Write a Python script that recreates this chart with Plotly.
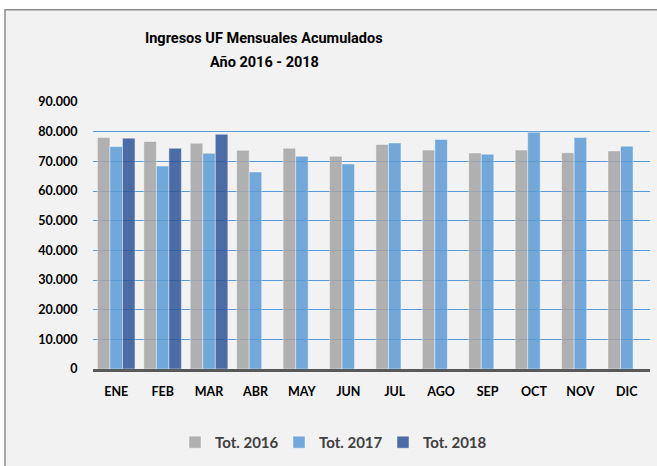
import plotly.graph_objects as go

months = ["ENE", "FEB", "MAR", "ABR", "MAY", "JUN", "JUL", "AGO", "SEP", "OCT", "NOV", "DIC"]
tot_2016 = [78000, 76700, 76100, 73700, 74400, 71700, 75700, 73800, 72800, 73800, 72900, 73500]
tot_2017 = [75000, 68400, 72700, 66400, 71700, 69100, 76200, 77400, 72400, 79800, 78000, 75100]
tot_2018 = [77800, 74400, 79100, None, None, None, None, None, None, None, None, None]
series_names = ["Tot. 2016", "Tot. 2017", "Tot. 2018"]
y_ticks = [0, 10000, 20000, 30000, 40000, 50000, 60000, 70000, 80000, 90000]

colors = ["#a5a5a5", "#5b9bd5", "#2f5597"]

fig = go.Figure()
for name, vals, col in zip(series_names, [tot_2016, tot_2017, tot_2018], colors):
    fig.add_trace(go.Bar(
        x=months, y=vals, name=name,
        marker=dict(color=col, line=dict(color="rgba(255,255,255,0.45)", width=1)),
        opacity=0.85,
    ))

W, H = 657, 466
ml, mr, mt, mb = 93, 7, 102, 95
pw = W - ml - mr
ph = H - mt - mb

def px_x(p):
    return (p - ml) / pw

def px_y(p):
    return (H - mb - p) / ph

# chart frame (cut off at the right and bottom)
fig.add_shape(type="rect", xref="paper", yref="paper",
              x0=px_x(5), x1=px_x(W + 20), y0=px_y(H + 20), y1=px_y(9),
              fillcolor="#f2f2f2", line=dict(color="#8c8c8c", width=1.5), layer="below")

title_font = dict(family="Roboto", size=14.5, color="#000000", weight="bold")
fig.add_annotation(text="Ingresos UF Mensuales Acumulados", showarrow=False,
                   xref="paper", yref="paper", x=px_x(264), y=px_y(38),
                   xanchor="center", yanchor="middle", font=title_font)
fig.add_annotation(text="Año 2016 - 2018", showarrow=False,
                   xref="paper", yref="paper", x=px_x(264), y=px_y(62),
                   xanchor="center", yanchor="middle", font=title_font)

fig.update_layout(
    width=W, height=H,
    margin=dict(l=ml, r=mr, t=mt, b=mb),
    paper_bgcolor="white",
    plot_bgcolor="rgba(0,0,0,0)",
    separators=",.",
    barmode="group",
    bargap=0.19,
    bargroupgap=0,
    legend=dict(
        orientation="h", x=px_x(331), xanchor="center", y=px_y(445), yanchor="middle",
        font=dict(family="Lato", size=15, color="#404040", weight="bold"),
        bgcolor="rgba(0,0,0,0)", tracegroupgap=0, entrywidth=59, entrywidthmode="pixels",
    ),
    xaxis=dict(
        showgrid=False, showline=True, linecolor="#595959", linewidth=2.5,
        ticks="outside", ticklen=9, tickcolor="rgba(0,0,0,0)",
        tickfont=dict(family="Lato", size=12.5, color="#000000", weight="bold"),
    ),
    yaxis=dict(
        range=[0, 90000], tickvals=y_ticks, tickformat=",.0f",
        showgrid=True, gridcolor="#5b9bd5", gridwidth=1,
        zeroline=False, showline=False,
        ticks="outside", ticklen=12, tickcolor="rgba(0,0,0,0)",
        tickfont=dict(family="Lato", size=12.5, color="#000000", weight="bold"),
    ),
)

fig.write_html("out.html", config={"displayModeBar": False},
               post_script="document.body.style.margin='0';")
